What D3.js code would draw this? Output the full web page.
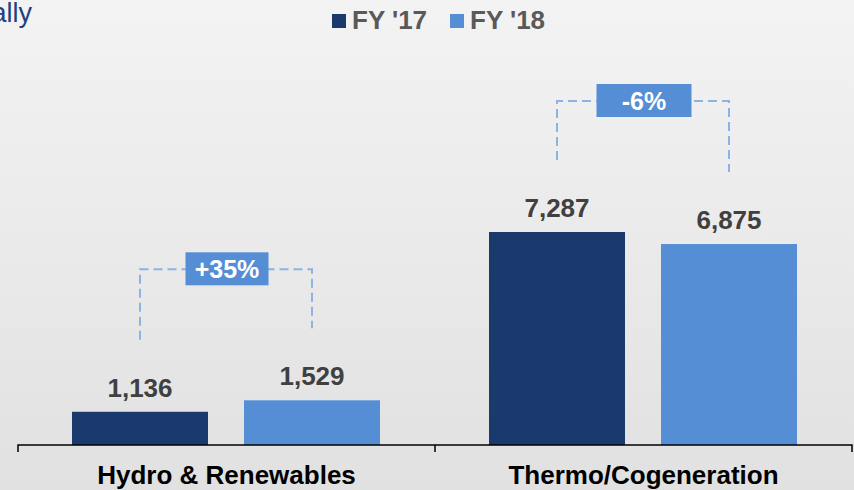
<!DOCTYPE html>
<meta charset="utf-8">
<head>
<style>
  body { margin: 0; }
  svg { display: block; font-family: "Liberation Sans", Arial, sans-serif; }
  .value { font-weight: bold; font-size: 26px; fill: #404040; text-anchor: middle; }
  .cat { font-weight: bold; font-size: 26px; fill: #000; text-anchor: middle; }
  .legend text { font-weight: bold; font-size: 26px; fill: #595959; }
  .bracket { fill: none; stroke: #8db3e2; stroke-width: 2; stroke-dasharray: 9 5; }
  .delta { font-weight: bold; font-size: 25px; fill: #fff; text-anchor: middle; }
</style>
</head>
<body>
<svg width="854" height="490"></svg>
<script src="https://d3js.org/d3.v7.min.js"></script>
<script>
  var categories = ["Hydro & Renewables", "Thermo/Cogeneration"];
  var series = ["FY '17", "FY '18"];
  var fy17 = [1136, 7287];
  var fy18 = [1529, 6875];
  var deltas = ["+35%", "-6%"];

  var colors = ["#1a3a6d", "#558ed5"];
  var boxW = [83, 95];

  var svg = d3.select("svg"),
      width = +svg.attr("width"),
      height = +svg.attr("height");

  // background gradient
  var grad = svg.append("defs").append("linearGradient")
      .attr("id", "bg").attr("x1", 0).attr("y1", 0).attr("x2", 0).attr("y2", 1);
  grad.append("stop").attr("offset", "0%").attr("stop-color", "#f3f3f3");
  grad.append("stop").attr("offset", "100%").attr("stop-color", "#e1e1e1");
  svg.append("rect").attr("width", width).attr("height", height).attr("fill", "url(#bg)");

  // cut-off title from the slide
  svg.append("text")
      .attr("x", 32).attr("y", 22)
      .attr("text-anchor", "end")
      .attr("font-size", 27)
      .attr("fill", "#1f4180")
      .text("ally");

  var baseY = 445;
  var x = d3.scaleBand().domain(categories).range([18, 852]);
  var xs = d3.scaleBand().domain(series).range([54, 362]).paddingInner(36 / 172);
  var y = d3.scaleLinear().domain([0, 8000]).range([baseY, baseY - 8000 * 0.02923]);

  var data = categories.map(function (c, i) {
    return { cat: c, i: i, delta: deltas[i], vals: [fy17[i], fy18[i]] };
  });

  var groups = svg.selectAll("g.grp").data(data).enter().append("g")
      .attr("class", "grp")
      .attr("transform", function (d) { return "translate(" + x(d.cat) + ",0)"; });

  groups.selectAll("rect").data(function (d) { return d.vals; }).enter().append("rect")
      .attr("x", function (v, j) { return xs(series[j]); })
      .attr("y", function (v) { return y(v); })
      .attr("width", xs.bandwidth())
      .attr("height", function (v) { return baseY - y(v); })
      .attr("fill", function (v, j) { return colors[j]; });

  groups.selectAll("text.value").data(function (d) { return d.vals; }).enter().append("text")
      .attr("class", "value")
      .attr("x", function (v, j) { return xs(series[j]) + xs.bandwidth() / 2; })
      .attr("y", function (v) { return y(v) - 15; })
      .text(function (v) { return d3.format(",")(v); });

  // dashed brackets and delta boxes
  groups.each(function (d) {
    var g = d3.select(this);
    var x1 = xs(series[0]) + xs.bandwidth() / 2,
        x2 = xs(series[1]) + xs.bandwidth() / 2,
        top = Math.min(y(d.vals[0]), y(d.vals[1])) - 131;
    g.append("path").attr("class", "bracket")
        .attr("d", "M" + x1 + "," + (y(d.vals[0]) - 72) + "V" + top + "H" + x2 + "V" + (y(d.vals[1]) - 72));
    var cx = (x1 + x2) / 2 + 1;
    g.append("rect")
        .attr("x", cx - boxW[d.i] / 2).attr("y", top - 17)
        .attr("width", boxW[d.i]).attr("height", 33)
        .attr("fill", "#558ed5");
    g.append("text").attr("class", "delta")
        .attr("x", cx).attr("y", top + 9)
        .text(d.delta);
  });

  // axis
  var axis = svg.append("g").attr("transform", "translate(0," + baseY + ")")
      .call(d3.axisBottom(x).tickSize(0).tickFormat(""));
  axis.select(".domain").remove();
  axis.append("path")
      .attr("d", "M18,7V0H852V7")
      .attr("fill", "none").attr("stroke", "#000").attr("stroke-width", 1.5);
  axis.append("line").attr("x1", 435).attr("x2", 435).attr("y1", 0).attr("y2", 7)
      .attr("stroke", "#000").attr("stroke-width", 1.5);

  svg.selectAll("text.cat").data(categories).enter().append("text")
      .attr("class", "cat")
      .attr("x", function (c) { return x(c) + x.bandwidth() / 2; })
      .attr("y", 484)
      .text(function (c) { return c; });

  // legend
  var legend = svg.append("g").attr("class", "legend");
  var lx = [332, 450];
  series.forEach(function (s, j) {
    legend.append("rect").attr("x", lx[j]).attr("y", 14).attr("width", 14).attr("height", 14)
        .attr("fill", colors[j]);
    legend.append("text").attr("x", lx[j] + 20).attr("y", 29).text(s);
  });
</script>
</body>
